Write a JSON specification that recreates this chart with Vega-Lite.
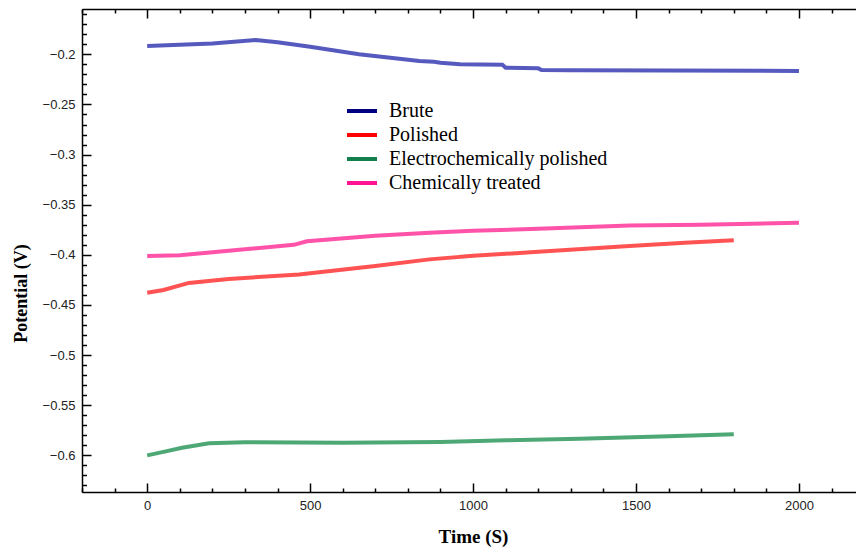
{
  "$schema": "https://vega.github.io/schema/vega-lite/v6.json",
  "width": 774,
  "height": 483,
  "autosize": "none",
  "padding": {"left": 82, "top": 9, "right": 0, "bottom": 55},
  "background": "white",
  "config": {
    "view": {"stroke": null},
    "axis": {
      "grid": false,
      "domainColor": "#000",
      "tickColor": "#000",
      "domainWidth": 1.5,
      "tickWidth": 1.5,
      "labelFont": "Liberation Sans",
      "labelFontSize": 13,
      "labelColor": "#222",
      "labelFlush": false,
      "labelOverlap": false
    }
  },
  "data": {
    "values": [
      {"s": "Brute", "t": 0, "v": -0.1917},
      {"s": "Brute", "t": 100, "v": -0.1905},
      {"s": "Brute", "t": 200, "v": -0.1893},
      {"s": "Brute", "t": 333, "v": -0.1857},
      {"s": "Brute", "t": 400, "v": -0.188},
      {"s": "Brute", "t": 500, "v": -0.1925},
      {"s": "Brute", "t": 650, "v": -0.2},
      {"s": "Brute", "t": 835, "v": -0.2067},
      {"s": "Brute", "t": 880, "v": -0.2075},
      {"s": "Brute", "t": 900, "v": -0.2085},
      {"s": "Brute", "t": 960, "v": -0.21},
      {"s": "Brute", "t": 1090, "v": -0.2105},
      {"s": "Brute", "t": 1100, "v": -0.2133},
      {"s": "Brute", "t": 1200, "v": -0.214},
      {"s": "Brute", "t": 1210, "v": -0.2157},
      {"s": "Brute", "t": 1300, "v": -0.216},
      {"s": "Brute", "t": 2000, "v": -0.2166},
      {"s": "Polished", "t": 0, "v": -0.4377},
      {"s": "Polished", "t": 50, "v": -0.435},
      {"s": "Polished", "t": 128, "v": -0.428},
      {"s": "Polished", "t": 250, "v": -0.424},
      {"s": "Polished", "t": 466, "v": -0.4195},
      {"s": "Polished", "t": 700, "v": -0.411},
      {"s": "Polished", "t": 866, "v": -0.4045},
      {"s": "Polished", "t": 1000, "v": -0.401},
      {"s": "Polished", "t": 1200, "v": -0.397},
      {"s": "Polished", "t": 1480, "v": -0.3912},
      {"s": "Polished", "t": 1650, "v": -0.388},
      {"s": "Polished", "t": 1800, "v": -0.3855},
      {"s": "Electrochemically polished", "t": 0, "v": -0.6},
      {"s": "Electrochemically polished", "t": 50, "v": -0.5965},
      {"s": "Electrochemically polished", "t": 107, "v": -0.5923},
      {"s": "Electrochemically polished", "t": 190, "v": -0.588},
      {"s": "Electrochemically polished", "t": 300, "v": -0.5868},
      {"s": "Electrochemically polished", "t": 600, "v": -0.5874},
      {"s": "Electrochemically polished", "t": 900, "v": -0.5866},
      {"s": "Electrochemically polished", "t": 1100, "v": -0.585},
      {"s": "Electrochemically polished", "t": 1327, "v": -0.5834},
      {"s": "Electrochemically polished", "t": 1600, "v": -0.581},
      {"s": "Electrochemically polished", "t": 1800, "v": -0.5788},
      {"s": "Chemically treated", "t": 0, "v": -0.4012},
      {"s": "Chemically treated", "t": 100, "v": -0.4005},
      {"s": "Chemically treated", "t": 200, "v": -0.3975},
      {"s": "Chemically treated", "t": 300, "v": -0.3945},
      {"s": "Chemically treated", "t": 450, "v": -0.39},
      {"s": "Chemically treated", "t": 490, "v": -0.3865},
      {"s": "Chemically treated", "t": 700, "v": -0.381},
      {"s": "Chemically treated", "t": 866, "v": -0.3779},
      {"s": "Chemically treated", "t": 1000, "v": -0.376},
      {"s": "Chemically treated", "t": 1200, "v": -0.374},
      {"s": "Chemically treated", "t": 1480, "v": -0.3706},
      {"s": "Chemically treated", "t": 1700, "v": -0.37},
      {"s": "Chemically treated", "t": 2000, "v": -0.368}
    ]
  },
  "layer": [
    {
      "mark": {"type": "line", "strokeWidth": 4, "opacity": 0.9},
      "encoding": {
        "x": {
          "field": "t", "type": "quantitative",
          "scale": {"domain": [-200, 2175], "nice": false, "zero": false},
          "axis": {
            "orient": "bottom",
            "values": [0, 500, 1000, 1500, 2000],
            "format": "d",
            "tickSize": -9,
            "labelPadding": 16,
            "title": "Time (S)",
            "titleFont": "Liberation Serif",
            "titleFontWeight": "bold",
            "titleFontSize": 19,
            "titleColor": "#000",
            "titleX": 391,
            "titleY": 44,
            "titleBaseline": "middle"
          }
        },
        "y": {
          "field": "v", "type": "quantitative",
          "scale": {"domain": [-0.6365, -0.1548], "nice": false, "zero": false},
          "axis": {
            "orient": "left",
            "values": [-0.6, -0.55, -0.5, -0.45, -0.4, -0.35, -0.3, -0.25, -0.2],
            "format": "~g",
            "tickSize": -9,
            "labelPadding": 16,
            "title": "Potential (V)",
            "titleFont": "Liberation Serif",
            "titleFontWeight": "bold",
            "titleFontSize": 18,
            "titleColor": "#000",
            "titleX": -61,
            "titleY": 284,
            "titleBaseline": "middle",
            "titleAngle": -90
          }
        },
        "color": {
          "field": "s", "type": "nominal",
          "scale": {
            "domain": ["Brute", "Polished", "Electrochemically polished", "Chemically treated"],
            "range": ["#4448b8", "#ff4040", "#3a9e66", "#ff40a0"]
          },
          "legend": null
        }
      }
    },
    {
      "mark": {"type": "line", "strokeWidth": 4, "opacity": 0},
      "encoding": {
        "x": {
          "field": "t", "type": "quantitative",
          "axis": {
            "orient": "bottom",
            "values": [-200, -100, 100, 200, 300, 400, 600, 700, 800, 900, 1100, 1200, 1300, 1400, 1600, 1700, 1800, 1900, 2100],
            "tickSize": -4,
            "labels": false,
            "domain": false,
            "title": null
          }
        },
        "y": {
          "field": "v", "type": "quantitative",
          "axis": {
            "orient": "left",
            "values": [-0.63, -0.62, -0.61, -0.59, -0.58, -0.57, -0.56, -0.54, -0.53, -0.52, -0.51, -0.49, -0.48, -0.47, -0.46, -0.44, -0.43, -0.42, -0.41, -0.39, -0.38, -0.37, -0.36, -0.34, -0.33, -0.32, -0.31, -0.29, -0.28, -0.27, -0.26, -0.24, -0.23, -0.22, -0.21, -0.19, -0.18, -0.17, -0.16],
            "tickSize": -4.5,
            "labels": false,
            "domain": false,
            "title": null
          }
        },
        "color": {
          "field": "s", "type": "nominal",
          "scale": {
            "domain": ["Brute", "Polished", "Electrochemically polished", "Chemically treated"],
            "range": ["#000080", "#ff0000", "#12804a", "#ff1493"]
          },
          "legend": {
            "title": null,
            "orient": "none",
            "legendX": 270,
            "legendY": 92,
            "padding": 0,
            "symbolType": "M-3,0H3",
            "symbolSize": 100,
            "symbolStrokeWidth": 4,
            "symbolOpacity": 1,
            "labelFont": "Liberation Serif",
            "labelFontSize": 20,
            "labelColor": "#000",
            "labelOffset": 17,
            "rowPadding": 4,
            "labelLimit": 400
          }
        }
      }
    },
    {
      "mark": {"type": "line", "opacity": 0},
      "encoding": {
        "x": {
          "field": "t", "type": "quantitative",
          "axis": {
            "orient": "top",
            "values": [0, 500, 1000, 1500, 2000],
            "tickSize": -9,
            "labels": false,
            "title": null
          }
        },
        "y": {"field": "v", "type": "quantitative", "axis": null}
      }
    },
    {
      "mark": {"type": "line", "opacity": 0},
      "encoding": {
        "x": {
          "field": "t", "type": "quantitative",
          "axis": {
            "orient": "top",
            "values": [-200, -100, 100, 200, 300, 400, 600, 700, 800, 900, 1100, 1200, 1300, 1400, 1600, 1700, 1800, 1900, 2100],
            "tickSize": -4,
            "labels": false,
            "domain": false,
            "title": null
          }
        },
        "y": {"field": "v", "type": "quantitative", "axis": null}
      }
    }
  ],
  "resolve": {
    "scale": {"color": "independent"},
    "axis": {"x": "independent", "y": "independent"}
  }
}
